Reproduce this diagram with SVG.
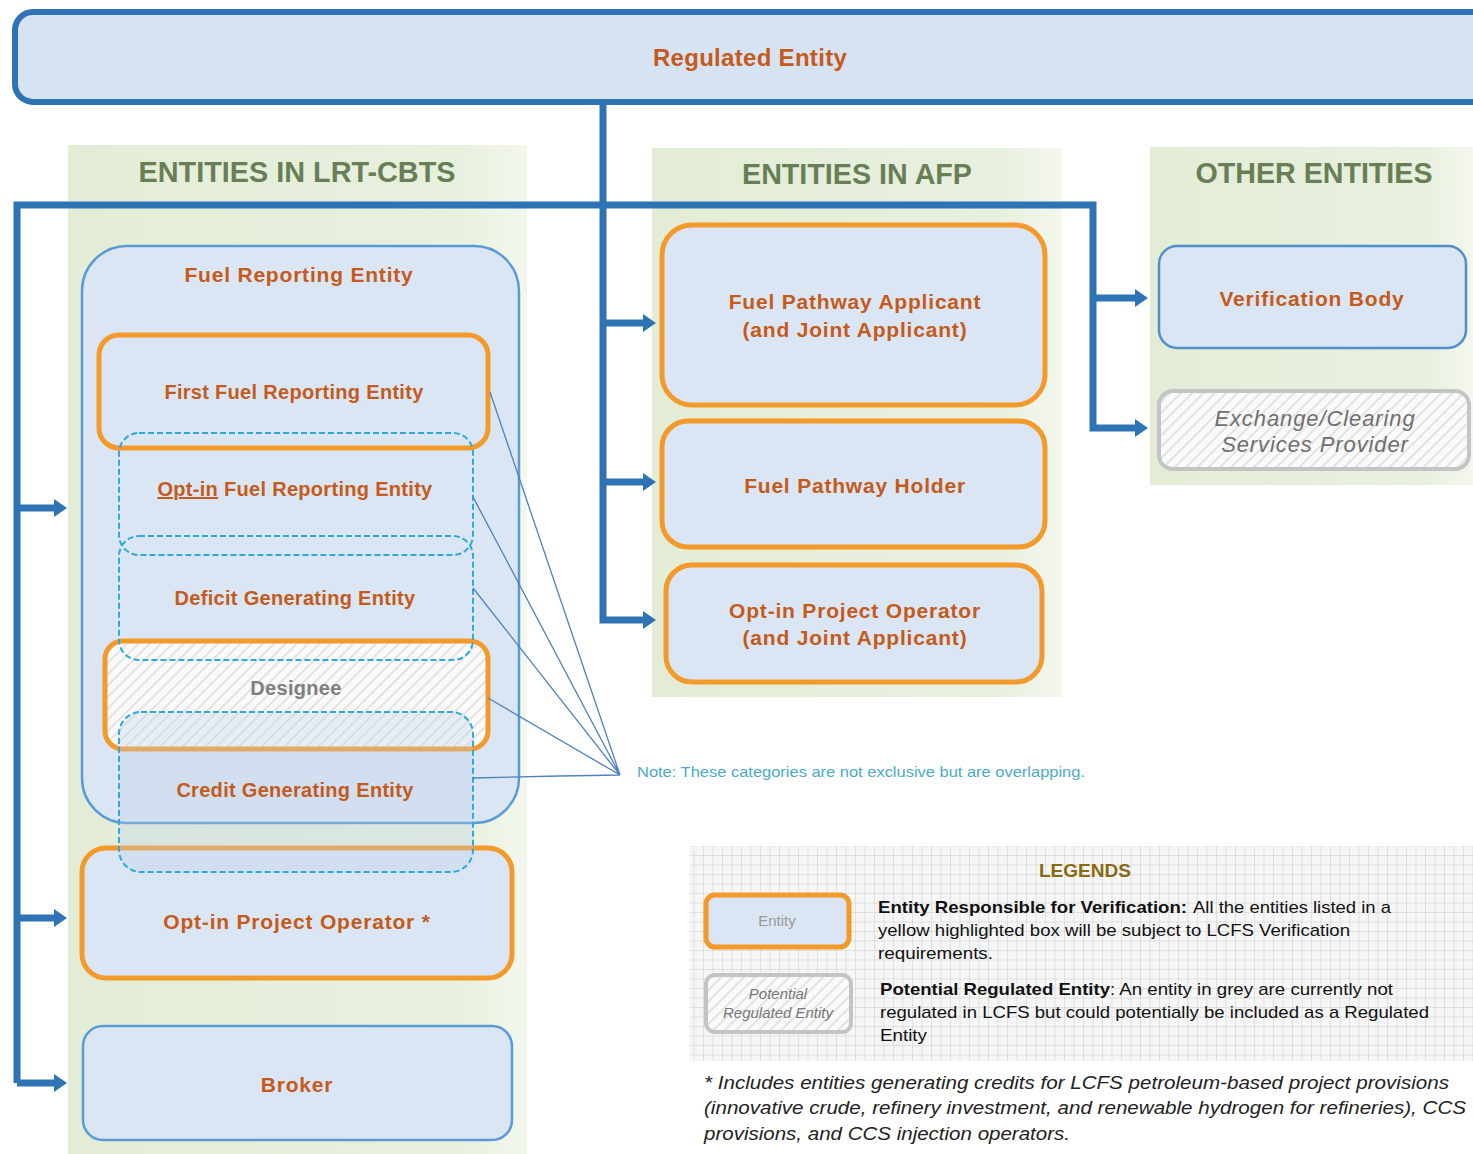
<svg xmlns="http://www.w3.org/2000/svg" width="1473" height="1154" viewBox="0 0 1473 1154">
<defs>
<linearGradient id="panel" x1="0" y1="0" x2="1" y2="0">
<stop offset="0" stop-color="#e3edd6"/>
<stop offset="0.85" stop-color="#e8f0de"/>
<stop offset="1" stop-color="#f3f7ee"/>
</linearGradient>
<pattern id="hatch" width="8" height="8" patternUnits="userSpaceOnUse" patternTransform="rotate(45)">
<rect width="8" height="8" fill="#fafafa"/>
<line x1="1" y1="0" x2="1" y2="8" stroke="#e3e3e3" stroke-width="2"/>
</pattern>
<pattern id="grid" width="9.5" height="9.5" patternUnits="userSpaceOnUse">
<rect width="9.5" height="9.5" fill="#f6f6f6"/>
<path d="M0 0 H9.5 M0 0 V9.5" stroke="#cbcbcb" stroke-width="1" fill="none"/>
</pattern>
<marker id="arr" markerUnits="userSpaceOnUse" markerWidth="14" markerHeight="18" viewBox="0 0 14 18" refX="0" refY="9" orient="auto">
<path d="M0 0 L13 9 L0 18 Z" fill="#2e74b5"/>
</marker>
<style>
.lbl{font-family:"Liberation Sans",Arial,sans-serif;font-weight:bold;fill:#c55a1a;text-anchor:middle}
.s20{font-size:20px;letter-spacing:0.3px}
.s21{font-size:21px;letter-spacing:0.8px}
.hdr{font-family:"Liberation Sans",Arial,sans-serif;font-weight:bold;fill:#687f56;text-anchor:middle;font-size:29px}
.orange{fill:#dae6f4;stroke:#f39a2b;stroke-width:5}
.blue{fill:#dae6f4;stroke:#5b9bd5;stroke-width:2.5}
.dash{fill:none;stroke:#2fa9d8;stroke-width:2;stroke-dasharray:6 3}
.grey{fill:url(#hatch);stroke:#c4c4c4;stroke-width:4}
.trunk{fill:none;stroke:#2e74b5;stroke-width:7}
.note{fill:none;stroke:#4f81bd;stroke-width:1.3}
.leg{font-family:"Liberation Sans",Arial,sans-serif;font-size:17px;fill:#111}
.foot{font-family:"Liberation Sans",Arial,sans-serif;font-size:19px;font-style:italic;fill:#222}
.gi{fill:#6f6f6f;font-style:italic;font-weight:normal;font-size:22px;letter-spacing:0.9px}
</style>
</defs>
<rect width="1473" height="1154" fill="#ffffff"/>

<!-- panels -->
<rect x="68" y="145" width="459" height="1009" fill="url(#panel)"/>
<rect x="652" y="148" width="410" height="549" fill="url(#panel)"/>
<rect x="1150" y="147" width="323" height="338" fill="url(#panel)"/>
<text class="hdr" x="297" y="182" textLength="317" lengthAdjust="spacingAndGlyphs">ENTITIES IN LRT-CBTS</text>
<text class="hdr" x="857" y="184" textLength="230" lengthAdjust="spacingAndGlyphs">ENTITIES IN AFP</text>
<text class="hdr" x="1314" y="183" textLength="237" lengthAdjust="spacingAndGlyphs">OTHER ENTITIES</text>

<!-- top node -->
<g id="regulated-entity">
<rect x="15" y="12" width="1475" height="90" rx="18" fill="#d6e3f3" stroke="#2e74b5" stroke-width="6"/>
<text class="lbl" x="750" y="66" font-size="24" letter-spacing="0.3">Regulated Entity</text>
</g>

<!-- connectors -->
<g id="connectors">
<path class="trunk" d="M603 104 V620 H643" marker-end="url(#arr)"/>
<path class="trunk" d="M603 323 H643" marker-end="url(#arr)"/>
<path class="trunk" d="M603 482 H643" marker-end="url(#arr)"/>
<path class="trunk" d="M17 1083 V205 H1093 V428 H1135" marker-end="url(#arr)"/>
<path class="trunk" d="M1093 298 H1135" marker-end="url(#arr)"/>
<path class="trunk" d="M17 508 H54" marker-end="url(#arr)"/>
<path class="trunk" d="M17 918 H54" marker-end="url(#arr)"/>
<path class="trunk" d="M17 1083 H54" marker-end="url(#arr)"/>
</g>

<!-- LRT-CBTS -->
<g id="fuel-reporting-entity">
<rect class="blue" x="82" y="246" width="437" height="577" rx="45"/>
<text class="lbl s21" x="299" y="282">Fuel Reporting Entity</text>
</g>
<g id="first-fuel-reporting-entity">
<rect class="orange" x="99" y="335" width="389" height="113" rx="20"/>
<text class="lbl s20" x="294" y="399">First Fuel Reporting Entity</text>
</g>
<g id="opt-in-fuel-reporting-entity">
<rect class="dash" x="119" y="433" width="354" height="122" rx="20"/>
<text class="lbl s20" x="295" y="496"><tspan text-decoration="underline">Opt-in</tspan> Fuel Reporting Entity</text>
</g>
<g id="designee">
<rect class="orange" x="105" y="641" width="383" height="108" rx="18" style="fill:url(#hatch)"/>
<text class="lbl s20" x="296" y="695" style="fill:#7f7f7f">Designee</text>
</g>
<g id="deficit-generating-entity">
<rect class="dash" x="119" y="536" width="354" height="124" rx="20"/>
<text class="lbl s20" x="295" y="605">Deficit Generating Entity</text>
</g>
<g id="opt-in-project-operator">
<rect class="orange" x="82" y="848" width="430" height="130" rx="24"/>
<text class="lbl s21" x="297" y="929">Opt-in Project Operator *</text>
</g>
<g id="credit-generating-entity">
<rect x="119" y="712" width="354" height="160" rx="22" fill="#bcd2ec" fill-opacity="0.3"/>
<rect class="dash" x="119" y="712" width="354" height="160" rx="22"/>
<text class="lbl s20" x="295" y="797">Credit Generating Entity</text>
</g>
<g id="broker">
<rect class="blue" x="83" y="1026" width="429" height="114" rx="20"/>
<text class="lbl s21" x="297" y="1092">Broker</text>
</g>

<!-- AFP -->
<g id="fuel-pathway-applicant">
<rect class="orange" x="662" y="225" width="383" height="180" rx="30"/>
<text class="lbl s21" x="855" y="309">Fuel Pathway Applicant</text>
<text class="lbl s21" x="855" y="337">(and Joint Applicant)</text>
</g>
<g id="fuel-pathway-holder">
<rect class="orange" x="662" y="421" width="383" height="126" rx="26"/>
<text class="lbl s21" x="855" y="493">Fuel Pathway Holder</text>
</g>
<g id="opt-in-project-operator-afp">
<rect class="orange" x="666" y="565" width="376" height="117" rx="26"/>
<text class="lbl s21" x="855" y="618">Opt-in Project Operator</text>
<text class="lbl s21" x="855" y="645">(and Joint Applicant)</text>
</g>

<!-- Other -->
<g id="verification-body">
<rect x="1159" y="246" width="307" height="102" rx="18" fill="#dae6f4" stroke="#4f8fcc" stroke-width="2.5"/>
<text class="lbl s21" x="1312" y="306">Verification Body</text>
</g>
<g id="exchange-clearing">
<rect class="grey" x="1159" y="391" width="310" height="78" rx="14"/>
<text class="lbl gi" x="1315" y="426">Exchange/Clearing</text>
<text class="lbl gi" x="1315" y="452">Services Provider</text>
</g>

<!-- note -->
<g id="note">
<path class="note" d="M620 775 L490 392 M620 775 L473 497 M620 775 L473 588 M620 775 L488 698 M620 775 L560 776 L473 778"/>
<text x="637" y="777" font-family="Liberation Sans, Arial, sans-serif" font-size="15" fill="#4bacc6" textLength="448" lengthAdjust="spacingAndGlyphs">Note: These categories are not exclusive but are overlapping.</text>
</g>

<!-- legend -->
<g id="legend">
<rect x="690" y="846" width="790" height="215" fill="url(#grid)"/>
<text x="1085" y="877" font-family="Liberation Sans, Arial, sans-serif" font-weight="bold" font-size="19" fill="#8a6a10" text-anchor="middle" textLength="92" lengthAdjust="spacingAndGlyphs">LEGENDS</text>
<rect class="orange" x="706" y="895" width="143" height="52" rx="9"/>
<text x="777" y="926" font-family="Liberation Sans, Arial, sans-serif" font-size="15" fill="#9a9a9a" text-anchor="middle">Entity</text>
<rect class="grey" x="706" y="975" width="145" height="57" rx="9"/>
<text x="778" y="999" font-family="Liberation Sans, Arial, sans-serif" font-size="15" font-style="italic" fill="#777" text-anchor="middle">Potential</text>
<text x="778" y="1018" font-family="Liberation Sans, Arial, sans-serif" font-size="15" font-style="italic" fill="#777" text-anchor="middle">Regulated Entity</text>
<text class="leg" x="878" y="913" font-weight="bold" textLength="309" lengthAdjust="spacingAndGlyphs">Entity Responsible for Verification:</text>
<text class="leg" x="1193" y="913" textLength="198" lengthAdjust="spacingAndGlyphs">All the entities listed in a</text>
<text class="leg" x="878" y="936" textLength="472" lengthAdjust="spacingAndGlyphs">yellow highlighted box will be subject to LCFS Verification</text>
<text class="leg" x="878" y="959" textLength="115" lengthAdjust="spacingAndGlyphs">requirements.</text>
<text class="leg" x="880" y="995" font-weight="bold" textLength="230" lengthAdjust="spacingAndGlyphs">Potential Regulated Entity</text>
<text class="leg" x="1110" y="995" textLength="283" lengthAdjust="spacingAndGlyphs">: An entity in grey are currently not</text>
<text class="leg" x="880" y="1018" textLength="549" lengthAdjust="spacingAndGlyphs">regulated in LCFS but could potentially be included as a Regulated</text>
<text class="leg" x="880" y="1041" textLength="47" lengthAdjust="spacingAndGlyphs">Entity</text>
</g>

<!-- footnote -->
<g id="footnote">
<text class="foot" x="704" y="1089" textLength="745" lengthAdjust="spacingAndGlyphs">* Includes entities generating credits for LCFS petroleum-based project provisions</text>
<text class="foot" x="704" y="1114" textLength="762" lengthAdjust="spacingAndGlyphs">(innovative crude, refinery investment, and renewable hydrogen for refineries), CCS</text>
<text class="foot" x="704" y="1140" textLength="366" lengthAdjust="spacingAndGlyphs">provisions, and CCS injection operators.</text>
</g>
</svg>
